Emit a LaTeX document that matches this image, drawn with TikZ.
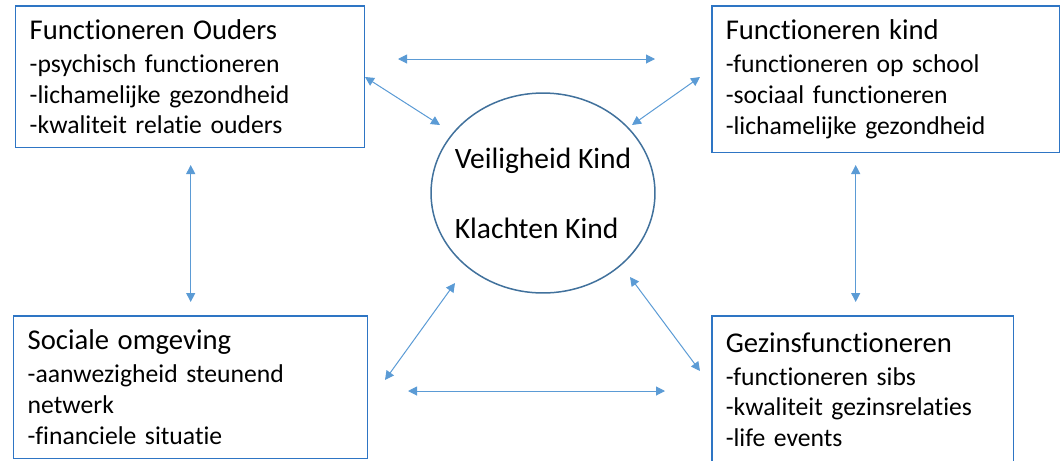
\documentclass[tikz,border=0pt]{standalone}
\usepackage{fontspec}
\setmainfont{Carlito}[Ligatures=NoCommon]
\usetikzlibrary{arrows.meta,shapes.geometric,positioning}
\definecolor{boxblue}{RGB}{46,117,196}
\definecolor{arrowblue}{RGB}{91,155,213}
\definecolor{ringblue}{RGB}{65,113,156}
\newcommand\boxtitle[1]{{\fontsize{16.3pt}{17.6pt}\selectfont #1}\\[0.04cm]}

\begin{document}
\begin{tikzpicture}[x=0.02cm,y=-0.02cm,
  box/.style={draw=boxblue,line width=0.03cm,anchor=north west,align=left,inner xsep=0.28cm,inner ysep=0pt,font=\fontsize{14.6pt}{17.6pt}\selectfont},
  link/.style={draw=arrowblue,line width=0.02cm,{Triangle[length=0.18cm,width=0.18cm]}-{Triangle[length=0.18cm,width=0.18cm]}}]
\useasboundingbox (0,0) rectangle (1064,460);
\node [box,minimum height=2.84cm,text width=6.42cm] (ouders) at (15,5)
  {\boxtitle{Functioneren Ouders}-psychisch functioneren\\-lichamelijke gezondheid\\-kwaliteit relatie ouders};
\node [box,minimum height=2.94cm,text width=6.40cm] (kind) at (711,5)
  {\boxtitle{Functioneren kind}-functioneren op school\\-sociaal functioneren\\-lichamelijke gezondheid};
\node [box,minimum height=2.86cm,text width=6.52cm] (sociaal) at (13,315)
  {\boxtitle{Sociale omgeving}-aanwezigheid steunend\\netwerk\\-financiele situatie};
\node [box,minimum height=2.96cm,text width=5.48cm] (gezin) at (711,315)
  {\boxtitle{Gezinsfunctioneren}-functioneren sibs\\-kwaliteit gezinsrelaties\\-life events};
\node [ellipse,draw=ringblue,line width=0.03cm,minimum width=4.48cm,minimum height=4cm,inner xsep=-0.2cm,inner ysep=0pt,align=left,
  font=\fontsize{16.8pt}{39.7pt}\selectfont] (veilig) at (543,193) {Veiligheid Kind\\Klachten Kind};

\coordinate (ok1) at (398,59);
\coordinate (ok2) at (655,59);
\coordinate (ov1) at (365,77);
\coordinate (ov2) at (440,125);
\coordinate (kv1) at (632,125);
\coordinate (kv2) at (700,77);
\coordinate (os1) at (190.7,165);
\coordinate (os2) at (190.7,302);
\coordinate (kg1) at (855.7,165);
\coordinate (kg2) at (855.7,302);
\coordinate (sv1) at (455,283);
\coordinate (sv2) at (385,380);
\coordinate (gv1) at (630,277);
\coordinate (gv2) at (700,371);
\coordinate (sg1) at (408,391);
\coordinate (sg2) at (665,391);

\draw [link] (ok1) -- (ok2);
\draw [link] (ov1) -- (ov2);
\draw [link] (kv1) -- (kv2);
\draw [link] (os1) -- (os2);
\draw [link] (kg1) -- (kg2);
\draw [link] (sv1) -- (sv2);
\draw [link] (gv1) -- (gv2);
\draw [link] (sg1) -- (sg2);
\end{tikzpicture}
\end{document}
